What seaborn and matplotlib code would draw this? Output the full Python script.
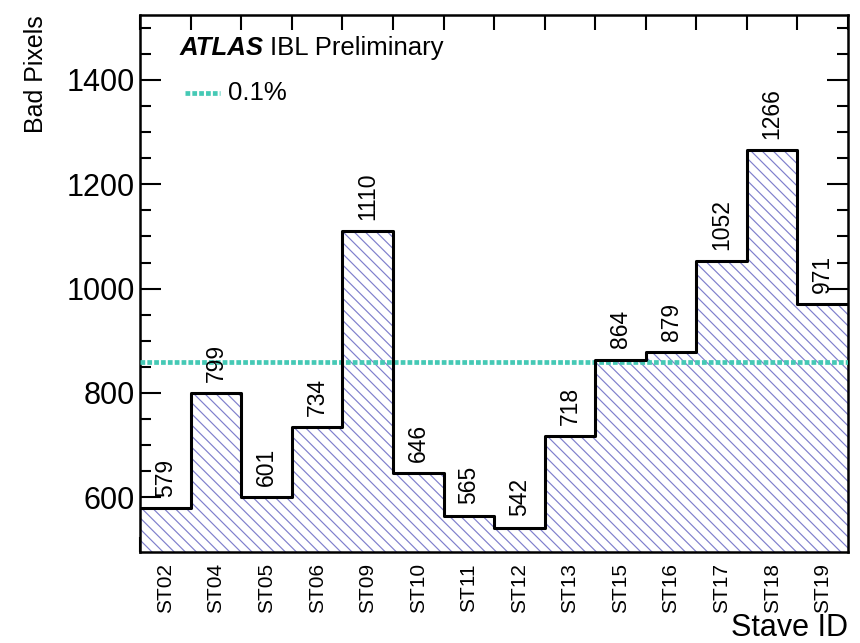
#!/usr/bin/env python3

import numpy as np
import pandas as pd
import matplotlib
matplotlib.use("Agg")
import matplotlib.pyplot as plt
from matplotlib.ticker import MultipleLocator
import seaborn as sns

# chart data
staves = ["ST02", "ST04", "ST05", "ST06", "ST09", "ST10", "ST11",
          "ST12", "ST13", "ST15", "ST16", "ST17", "ST18", "ST19"]
bad_pixels = [579, 799, 601, 734, 1110, 646, 565,
              542, 718, 864, 879, 1052, 1266, 971]
threshold = 860  # 0.1% of pixels

HATCH_COL = "#7f7fcc"
LINE_COL = "#45c9b5"

sns.set_theme(style="white")
plt.rcParams["font.family"] = ["Liberation Sans", "DejaVu Sans"]
plt.rcParams["hatch.color"] = HATCH_COL
plt.rcParams["hatch.linewidth"] = 0.85

df = pd.DataFrame({"stave": staves, "bad": bad_pixels})
df["pos"] = np.arange(len(df)) + 0.5

fig = plt.figure(figsize=(8.6, 6.43), dpi=100)
ax = fig.add_axes([0.163, 0.1415, 0.823, 0.8355])

# hatched fill under the histogram
sns.histplot(data=df, x="pos", weights="bad", bins=len(df), binrange=(0, len(df)),
             element="step", fill=True, ax=ax, facecolor="white",
             edgecolor=HATCH_COL, linewidth=0, alpha=1, hatch="\\\\\\")
# 0.1% line
ax.axhline(threshold, color=LINE_COL, lw=3.4, ls=(0, (1, 0.45)),
           dash_capstyle="butt", zorder=3)
# black outline
sns.histplot(data=df, x="pos", weights="bad", bins=len(df), binrange=(0, len(df)),
             element="step", fill=False, ax=ax, color="black", linewidth=2.2,
             zorder=4)

for p, v in zip(df["pos"], df["bad"]):
    ax.annotate(str(v), (p, v), xytext=(0, 8), textcoords="offset points",
                rotation=90, ha="center", va="bottom", fontsize=16.5,
                color="black")

ax.set_xlim(0, len(df))
ax.set_ylim(495, 1525)
ax.set_xticks(np.arange(len(df)) + 0.5)
ax.set_xticklabels(staves, rotation=90, fontsize=15)
ax.xaxis.set_minor_locator(MultipleLocator(1))
ax.tick_params(axis="x", which="major", length=0, pad=8, labelcolor="black")
ax.tick_params(axis="x", which="minor", length=11, width=1.5, direction="in",
               top=True, bottom=True, color="black")
ax.yaxis.set_major_locator(MultipleLocator(200))
ax.yaxis.set_minor_locator(MultipleLocator(50))
ax.tick_params(axis="y", which="major", length=15, width=1.5, direction="in",
               left=True, right=True, labelsize=22, pad=4, color="black",
               labelcolor="black")
ax.tick_params(axis="y", which="minor", length=8, width=1.5, direction="in",
               left=True, right=True, color="black")
for s in ax.spines.values():
    s.set_color("black")
    s.set_linewidth(1.8)

ax.set_ylabel("Bad Pixels", fontsize=18, loc="top", color="black", labelpad=13)
ax.set_xlabel("Stave ID", fontsize=22, loc="right", color="black", labelpad=0)

ax.text(0.056, 0.925, "ATLAS", transform=ax.transAxes, fontsize=18.5,
        fontweight="bold", fontstyle="italic", va="baseline", color="black")
ax.text(0.183, 0.925, "IBL Preliminary", transform=ax.transAxes, fontsize=18.5,
        va="baseline", color="black")
ax.plot([0.064, 0.113], [0.855, 0.855], transform=ax.transAxes, color=LINE_COL,
        lw=3.4, ls=(0, (1, 0.45)), dash_capstyle="butt")
ax.text(0.124, 0.855, "0.1%", transform=ax.transAxes, fontsize=18.5,
        va="center", color="black")

fig.savefig("out.png", dpi=100)
